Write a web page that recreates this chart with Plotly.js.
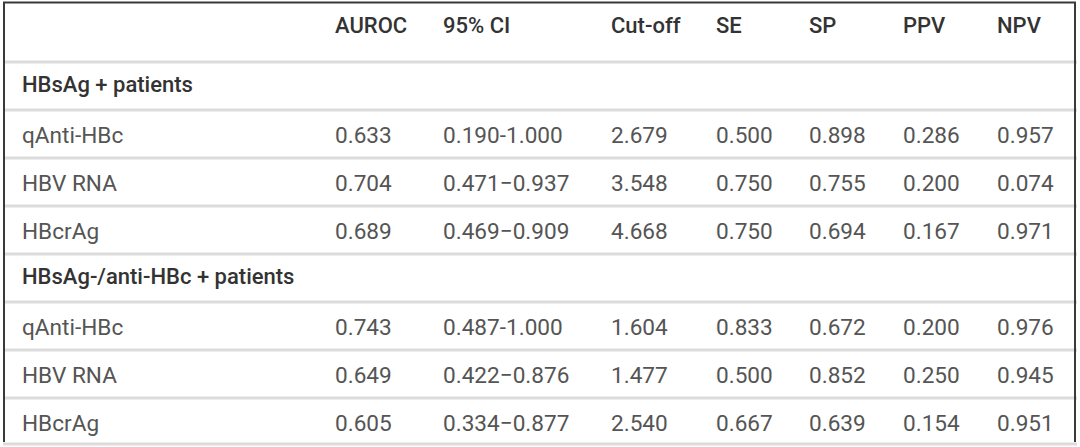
<!DOCTYPE html>
<html>
<head>
<meta charset="utf-8">
<script src="https://cdn.plot.ly/plotly-3.0.1.min.js"></script>
<style>html,body{margin:0;padding:0;background:#fff;}#chart{width:1080px;height:447px;}</style>
</head>
<body>
<div id="chart"></div>
<script>
// ---- data ----
const columns = ["AUROC", "95% CI", "Cut-off", "SE", "SP", "PPV", "NPV"];
const groups = ["HBsAg + patients", "HBsAg-/anti-HBc + patients"];
const markers = ["qAnti-HBc", "HBV RNA", "HBcrAg"];

const aurocPos = [0.633, 0.704, 0.689];
const ciPos = ["0.190-1.000", "0.471\u22120.937", "0.469\u22120.909"];
const cutoffPos = [2.679, 3.548, 4.668];
const sePos = [0.500, 0.750, 0.750];
const spPos = [0.898, 0.755, 0.694];
const ppvPos = [0.286, 0.200, 0.167];
const npvPos = [0.957, 0.074, 0.971];

const aurocNeg = [0.743, 0.649, 0.605];
const ciNeg = ["0.487-1.000", "0.422\u22120.876", "0.334\u22120.877"];
const cutoffNeg = [1.604, 1.477, 2.540];
const seNeg = [0.833, 0.500, 0.667];
const spNeg = [0.672, 0.852, 0.639];
const ppvNeg = [0.200, 0.250, 0.154];
const npvNeg = [0.976, 0.945, 0.951];

// ---- layout constants ----
const W = 1080, H = 447;
const labelX = 22;
const colX = [335, 443, 611, 716, 809, 903, 997];
const headerY = 27;
const rowTop = 62, rowH = 48, textShift = 3;
const FONT = "Roboto, 'Noto Sans', sans-serif";
const FS = 22.6;
const FSB = 22;

// build rows
const fmt = v => (typeof v === "number" ? v.toFixed(3) : v);
const blocks = [
  {title: groups[0], cols: [aurocPos, ciPos, cutoffPos, sePos, spPos, ppvPos, npvPos]},
  {title: groups[1], cols: [aurocNeg, ciNeg, cutoffNeg, seNeg, spNeg, ppvNeg, npvNeg]}
];
const rows = [];
blocks.forEach(b => {
  rows.push({type: "group", label: b.title});
  markers.forEach((m, i) => rows.push({type: "data", label: m, values: b.cols.map(c => fmt(c[i]))}));
});
const rowY = i => rowTop + rowH * i + rowH / 2 + textShift;

const traces = [];
traces.push({
  type: "scatter", mode: "text", x: colX, y: colX.map(() => headerY), text: columns,
  textposition: "middle right", hoverinfo: "skip", showlegend: false,
  textfont: {family: FONT, size: FSB, color: "#333333", weight: 500}
});
const gi = rows.map((r, i) => i).filter(i => rows[i].type === "group");
traces.push({
  type: "scatter", mode: "text", x: gi.map(() => labelX), y: gi.map(i => rowY(i) - 3),
  text: gi.map(i => rows[i].label), textposition: "middle right", hoverinfo: "skip", showlegend: false,
  textfont: {family: FONT, size: FSB, color: "#333333", weight: 500}
});
const di = rows.map((r, i) => i).filter(i => rows[i].type === "data");
traces.push({
  type: "scatter", mode: "text", x: di.map(() => labelX), y: di.map(rowY),
  text: di.map(i => rows[i].label), textposition: "middle right", hoverinfo: "skip", showlegend: false,
  textfont: {family: FONT, size: FS, color: "#555555"}
});
columns.forEach((c, ci) => {
  traces.push({
    type: "scatter", mode: "text", x: di.map(() => colX[ci]), y: di.map(rowY),
    text: di.map(i => rows[i].values[ci]), textposition: "middle right", hoverinfo: "skip", showlegend: false,
    textfont: {family: FONT, size: FS, color: "#555555"}
  });
});

const shapes = [];
for (let k = 0; k <= rows.length; k++) {
  const y = rowTop + rowH * k - (k === rows.length ? 2 : 0);
  shapes.push({type: "line", xref: "x", yref: "y", x0: 3, x1: 1077, y0: y, y1: y,
    line: {color: "#dcdcdc", width: 3}});
}
const border = {color: "#3a3a3a", width: 2};
shapes.push({type: "line", xref: "x", yref: "y", x0: 3, x1: 1076, y0: 2.5, y1: 2.5, line: border});
shapes.push({type: "line", xref: "x", yref: "y", x0: 4, x1: 4, y0: 2, y1: 442, line: border});
shapes.push({type: "line", xref: "x", yref: "y", x0: 1075, x1: 1075, y0: 2, y1: 442, line: border});

const layout = {
  width: W, height: H, margin: {l: 0, r: 0, t: 0, b: 0},
  paper_bgcolor: "#ffffff", plot_bgcolor: "#ffffff",
  xaxis: {range: [0, W], visible: false, fixedrange: true},
  yaxis: {range: [H, 0], visible: false, fixedrange: true},
  shapes: shapes, showlegend: false
};
Plotly.newPlot("chart", traces, layout, {displayModeBar: false, staticPlot: true});
</script>
</body>
</html>
